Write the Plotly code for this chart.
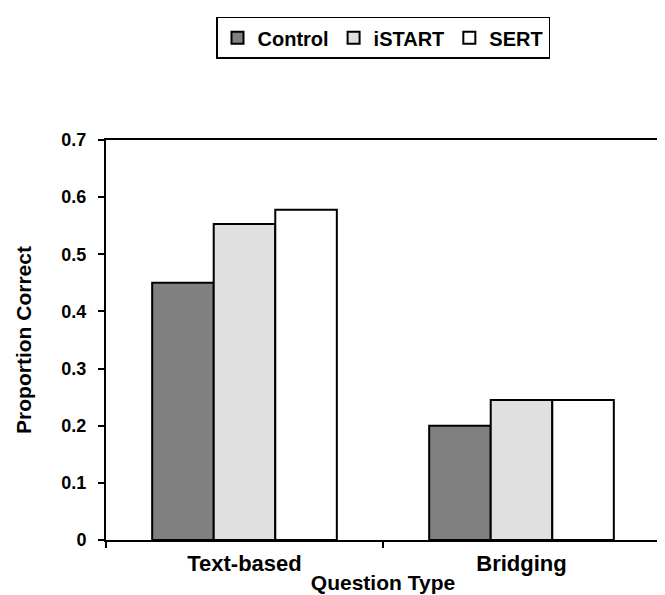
import plotly.graph_objects as go

categories = ["Text-based", "Bridging"]
series_names = ["Control", "iSTART", "SERT"]
control = [0.45, 0.20]
istart = [0.553, 0.245]
sert = [0.578, 0.245]
y_ticks = [0, 0.1, 0.2, 0.3, 0.4, 0.5, 0.6, 0.7]
y_tick_labels = ["0", "0.1", "0.2", "0.3", "0.4", "0.5", "0.6", "0.7"]

colors = ["#808080", "#e0e0e0", "#ffffff"]
FONT = "Liberation Sans, Arial, sans-serif"

fig = go.Figure()
for name, vals, col in zip(series_names, [control, istart, sert], colors):
    fig.add_trace(go.Bar(
        name=name, x=categories, y=vals,
        marker=dict(color=col, line=dict(color="black", width=2)),
    ))

# page body has an 8px margin, so the figure starts at (8, 8)
fig.update_layout(
    width=657, height=587,
    paper_bgcolor="white", plot_bgcolor="white",
    font=dict(family=FONT, size=18, color="black", weight="bold"),
    barmode="group", bargap=1/3, bargroupgap=0,
    margin=dict(l=98, r=3, t=132, b=55),
    showlegend=True,
    legend=dict(
        orientation="h", x=0.5, xanchor="center", xref="paper",
        y=0.985, yanchor="top", yref="container",
        bordercolor="black", borderwidth=1.5,
        font=dict(family=FONT, size=20, weight="bold"),
        itemwidth=30, tracegroupgap=0,
    ),
    xaxis=dict(
        showline=True, linecolor="black", linewidth=2, mirror=True,
        ticks="outside", tickson="boundaries", ticklen=6, tickcolor="black", tickwidth=1.5,
        tickfont=dict(family=FONT, size=22, weight="bold"),
        ticklabelstandoff=3,
        title=dict(text="Question Type", standoff=0,
                   font=dict(family=FONT, size=21, weight="bold")),
    ),
    yaxis=dict(
        range=[0, 0.7], tickvals=y_ticks, ticktext=y_tick_labels,
        showline=True, linecolor="black", linewidth=2, mirror=True,
        showgrid=False, zeroline=False,
        ticks="outside", ticklen=6, tickcolor="black", tickwidth=1.5,
        tickfont=dict(family=FONT, size=18, weight="bold"),
        ticklabelstandoff=8,
        title=dict(text="Proportion Correct", standoff=24,
                   font=dict(family=FONT, size=21, weight="bold")),
    ),
)

fig.write_html("out.html")
